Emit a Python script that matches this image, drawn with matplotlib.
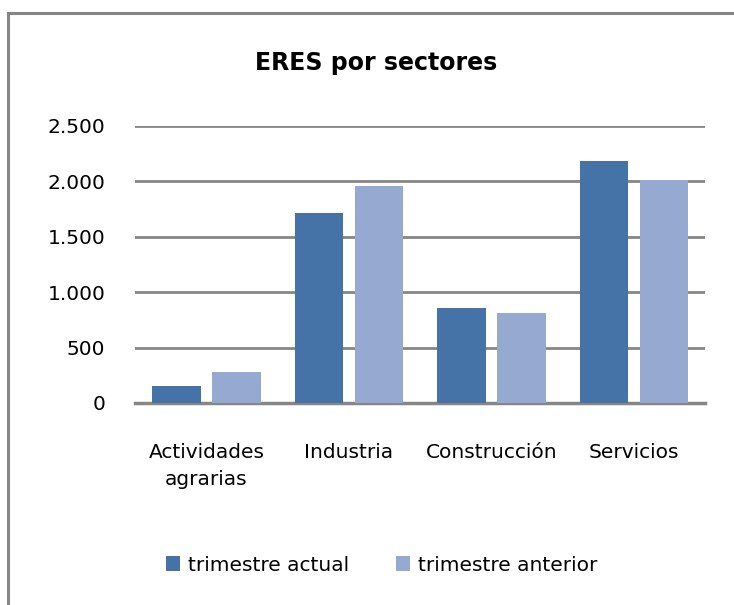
import matplotlib.pyplot as plt
import matplotlib.ticker as mticker
import numpy as np
from matplotlib.patches import Rectangle

sectores = ["Actividades\nagrarias", "Industria", "Construcción", "Servicios"]
trimestre_actual = [157, 1710, 858, 2185]
trimestre_anterior = [282, 1961, 809, 2015]
yticks = [0, 500, 1000, 1500, 2000, 2500]

fig = plt.figure(figsize=(7.34, 6.05), dpi=100)
ax = fig.add_axes([0.184, 0.334, 0.777, 0.458])

x = np.arange(len(sectores))
w = 0.34
ax.bar(x - 0.21, trimestre_actual, w, color="#4573A8", label="trimestre actual", zorder=3)
ax.bar(x + 0.21, trimestre_anterior, w, color="#96AAD1", label="trimestre anterior", zorder=3)

ax.set_xlim(-0.5, 3.5)
ax.set_ylim(0, 2500)
ax.set_yticks(yticks)
ax.yaxis.set_major_formatter(mticker.FuncFormatter(lambda v, p: f"{int(v):,}".replace(",", ".")))
ax.set_xticks(x)
ax.set_xticklabels(sectores, fontsize=14.5, linespacing=1.5)
ax.tick_params(axis="y", labelsize=14.5, length=0, pad=21.5)
ax.tick_params(axis="x", length=0, pad=29)
ax.grid(axis="y", color="#868686", linewidth=2, zorder=0)
for s in ["top", "right", "left"]:
    ax.spines[s].set_visible(False)
ax.spines["bottom"].set_color("#868686")
ax.spines["bottom"].set_linewidth(2.5)

fig.text(0.512, 0.896, "ERES por sectores", ha="center", va="center",
         fontsize=17, fontweight="bold")

fig.legend(loc="center", bbox_to_anchor=(0.52, 0.066), ncol=2, frameon=False,
           fontsize=14.5, handlelength=0.7, handleheight=0.7, handletextpad=0.4,
           columnspacing=2.35)

# chart border (cut off on the right and bottom in the original)
fig.patches.append(Rectangle((8 / 734, -0.1), 1.2, 1 - 13 / 605 + 0.1,
                             transform=fig.transFigure, fill=False,
                             edgecolor="#868686", linewidth=2.2))

fig.savefig("out.png", dpi=100)
